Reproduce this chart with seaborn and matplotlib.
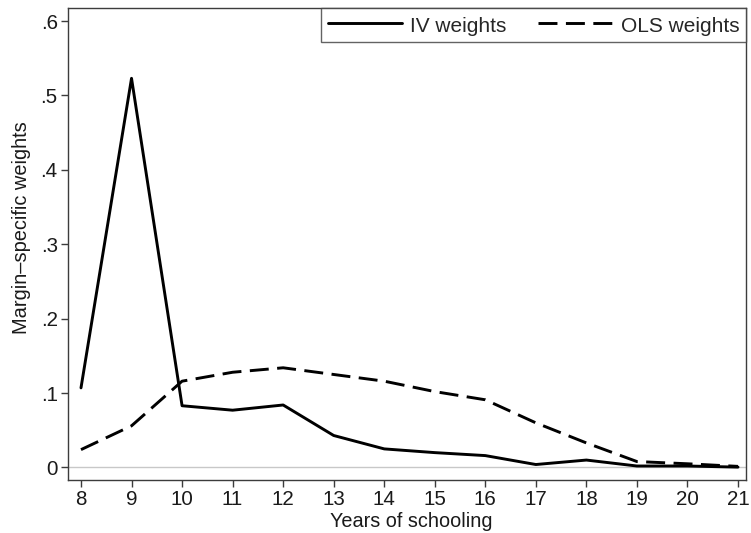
import numpy as np
import pandas as pd
import matplotlib
matplotlib.use("Agg")
import matplotlib.pyplot as plt
import seaborn as sns

years = [8, 9, 10, 11, 12, 13, 14, 15, 16, 17, 18, 19, 20, 21]
iv_weights = [0.107, 0.523, 0.083, 0.077, 0.084, 0.043, 0.025, 0.020, 0.016, 0.004, 0.010, 0.002, 0.002, 0.0005]
ols_weights = [0.024, 0.056, 0.116, 0.128, 0.134, 0.125, 0.116, 0.102, 0.091, 0.060, 0.033, 0.008, 0.005, 0.0015]
series_names = ["IV weights", "OLS weights"]
y_ticks = [0, 0.1, 0.2, 0.3, 0.4, 0.5, 0.6]
y_tick_labels = ["0", ".1", ".2", ".3", ".4", ".5", ".6"]
x_label = "Years of schooling"
y_label = "Margin\u2013specific weights"

df = pd.DataFrame({
    "year": years * 2,
    "weight": iv_weights + ols_weights,
    "series": [series_names[0]] * len(years) + [series_names[1]] * len(years),
})

sns.set_style("white")
plt.rcParams["font.family"] = ["Liberation Sans", "DejaVu Sans"]

fig = plt.figure(figsize=(7.51, 5.33), dpi=100)
ax = fig.add_axes([68 / 751, 1 - 480 / 533, (746 - 68) / 751, (480 - 8) / 533])

ax.axhline(0, color="#c8c8c8", lw=1.0, zorder=0)

sns.lineplot(
    data=df, x="year", y="weight", style="series", ax=ax,
    color="black", linewidth=2.1,
    dashes={series_names[0]: "", series_names[1]: (6.5, 2.9)},
    legend=True,
)

ax.set_xlim(7.743, 21.158)
ax.set_ylim(-0.0168, 0.6175)
ax.set_xticks(years)
ax.set_xticklabels([str(y) for y in years])
ax.set_yticks(y_ticks)
ax.set_yticklabels(y_tick_labels)

ax.tick_params(axis="both", which="major", direction="out", length=5,
               width=1.0, color="#3c3c3c", labelsize=14.8, labelcolor="#1a1a1a",
               bottom=True, left=True)
ax.tick_params(axis="x", pad=2.3)
ax.tick_params(axis="y", pad=2.4)

for s in ax.spines.values():
    s.set_visible(True)
    s.set_color("#3c3c3c")
    s.set_linewidth(1.0)

ax.set_xlabel(x_label, fontsize=14.3, color="#1a1a1a")
ax.set_ylabel(y_label, fontsize=14.4, color="#1a1a1a")
ax.xaxis.set_label_coords((411.5 - 68) / 678, -(512 - 480) / 472)
ax.yaxis.set_label_coords((31 - 68) / 678, (480 - 228) / 472)

handles, labels = ax.get_legend_handles_labels()
leg = ax.legend(handles, labels, loc="upper right", bbox_to_anchor=(1.0, 1.0),
                borderaxespad=0, ncol=2, fontsize=15.0, frameon=True,
                fancybox=False, handlelength=3.55, handleheight=1.1,
                handletextpad=0.42, columnspacing=1.5, borderpad=0.32)
leg.get_frame().set_edgecolor("#3c3c3c")
leg.get_frame().set_linewidth(1.0)
for line in leg.get_lines():
    line.set_linewidth(2.1)

fig.savefig("out.png", dpi=100)
